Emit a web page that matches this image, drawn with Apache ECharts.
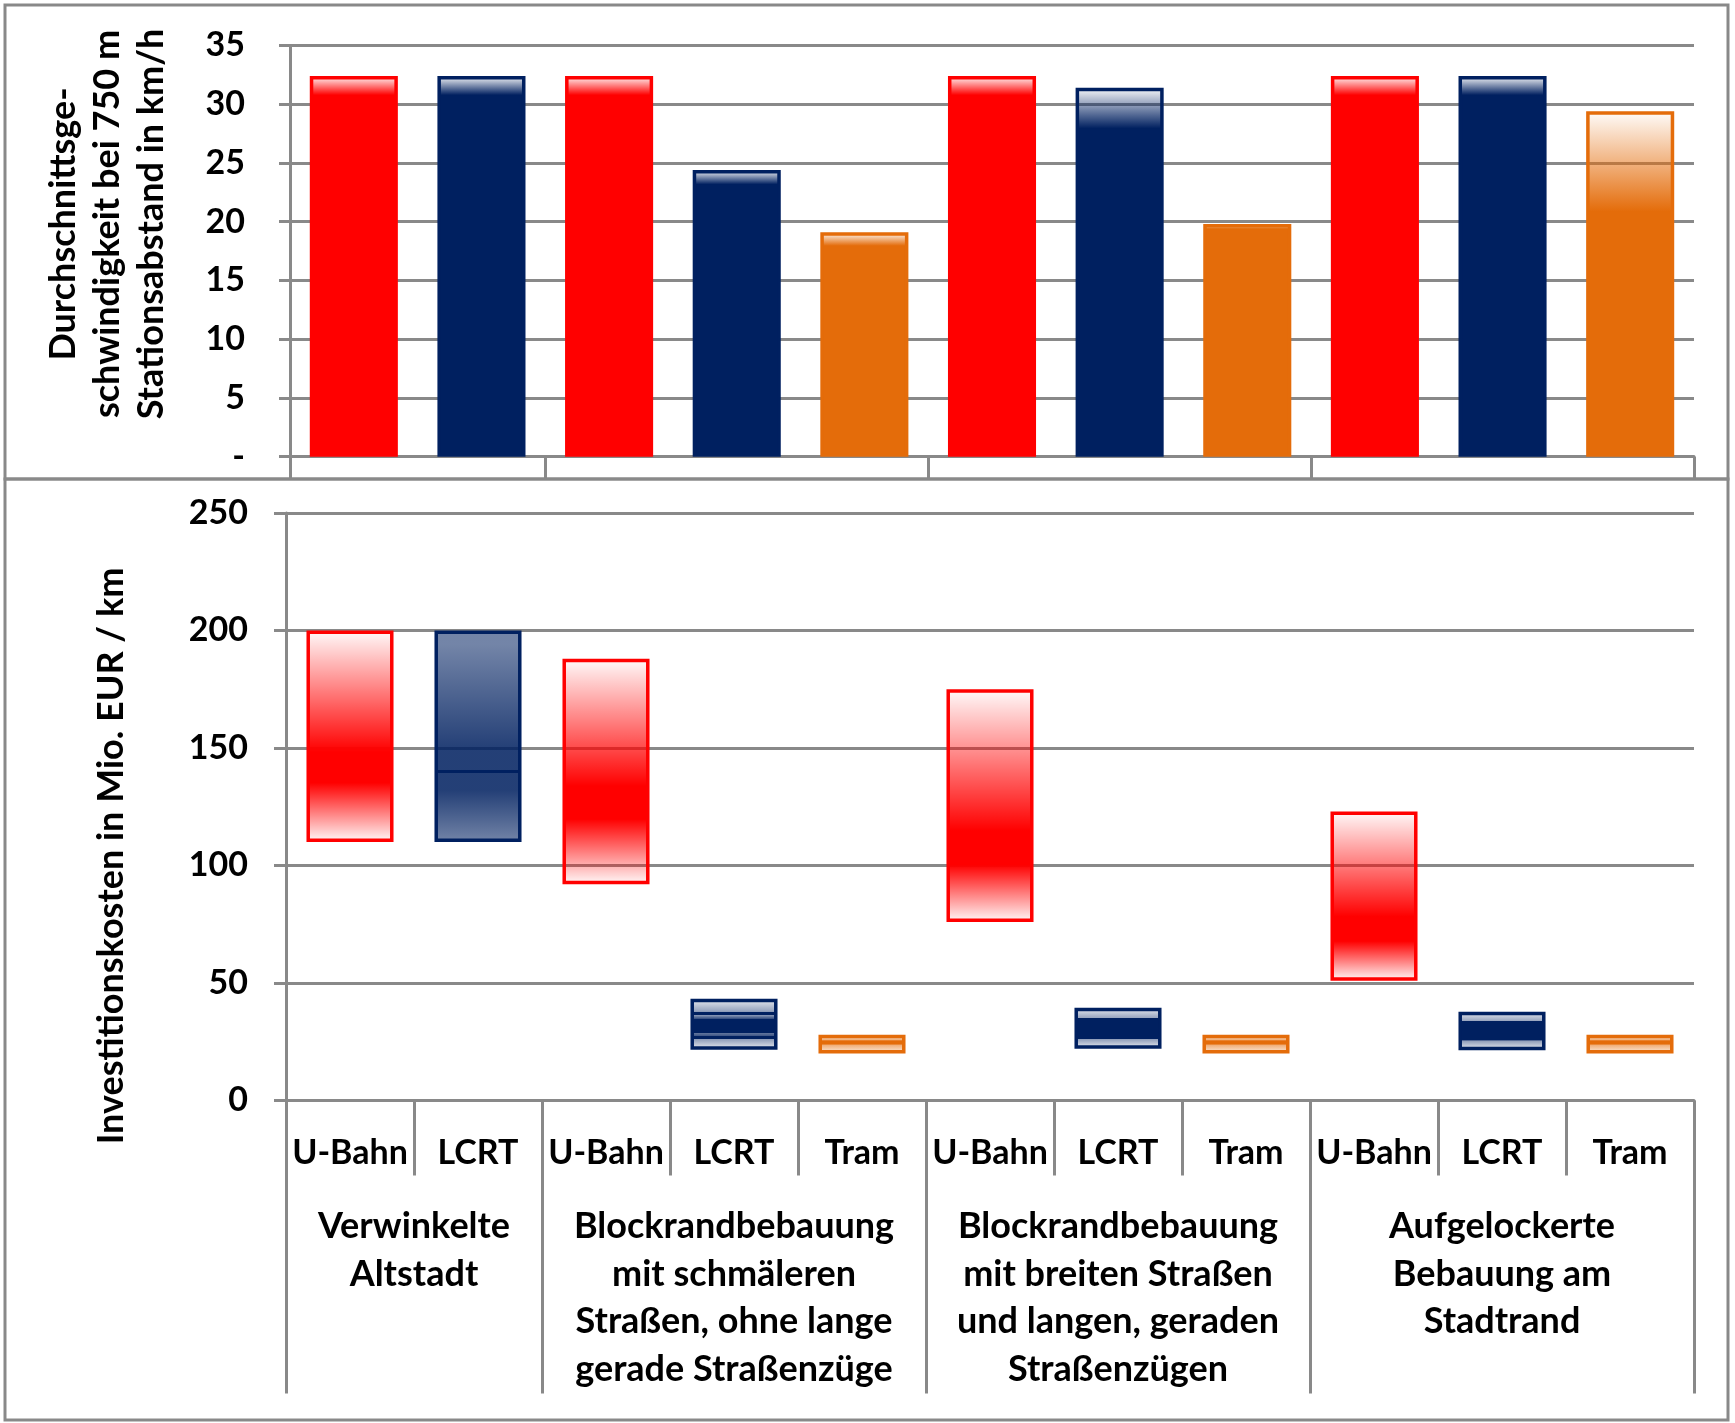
<!DOCTYPE html>
<html><head><meta charset="utf-8">
<script src="https://cdn.jsdelivr.net/npm/echarts@6/dist/echarts.min.js"></script>
<style>html,body{margin:0;padding:0;background:#fff}#c{width:1735px;height:1423px}</style>
</head><body><div id="c"></div>
<script>
// ---------- data ----------
const categories = ['U-Bahn','LCRT','U-Bahn','LCRT','Tram','U-Bahn','LCRT','Tram','U-Bahn','LCRT','Tram'];
const groups = ['Verwinkelte\nAltstadt',
  'Blockrandbebauung\nmit schmäleren\nStraßen, ohne lange\ngerade Straßenzüge',
  'Blockrandbebauung\nmit breiten Straßen\nund langen, geraden\nStraßenzügen',
  'Aufgelockerte\nBebauung am\nStadtrand'];
const groupSizes = [2,3,3,3];
const speed   = [32.4,32.4,32.4,24.4,19.1,32.4,31.4,19.8,32.4,32.4,29.4];
const costMin = [110,110,92,21.6,20,76,22,20,51,21.4,20];
const costMid = [140,140,125,32,24,105,30.5,24,71,29.6,24];
const costMax = [200,200,188,43.3,28,175,39.5,28,123,37.8,28];
const speedAxis = {min:0, max:35, step:5};
const costAxis  = {min:0, max:250, step:50};
const yNameTop = 'Durchschnittsge-\nschwindigkeit bei 750 m\nStationsabstand in km/h';
const yNameBottom = 'Investitionskosten in Mio. EUR / km';

// ---------- styles ----------
const modeColor = {'U-Bahn':'#FF0000','LCRT':'#002060','Tram':'#E46C0A'};
const GRAY = '#898989';
const FONT = 'Lato, Carlito, Calibri, sans-serif';
const FS = 34, FS_TXT = 36;
const topFade = [0.05,0.05,0.05,0.05,0.06,0.05,0.11,0.02,0.05,0.05,0.29];
const segKind = ['U','LB','U','L2','T','U','L','T','U','L','T'];
const segStyles = {
  U:  {upper:[[0,.02],[.86,1],[1,1]], lower:[[0,1],[.16,1],[1,.02]]},
  LB: {upper:[[0,.55],[.1,.55],[.85,.86],[1,.86]], lower:[[0,.86],[.25,.86],[1,.55]], divider:true},
  L:  {upper:[[0,.08],[.5,.42],[.51,1],[1,1]], lower:[[0,1],[.49,1],[.5,.45],[1,.06]]},
  L2: {upper:[[0,.08],[.48,.42],[.49,1],[.61,1],[.615,.45],[.775,.85],[.78,1],[1,1]],
       lower:[[0,1],[.3,1],[.305,.6],[.43,.75],[.435,1],[.55,1],[.555,.45],[1,.06]]},
  T:  {upper:[[0,.06],[.55,.55],[.65,1],[1,1]], lower:[[0,1],[.1,.55],[1,.1]]}
};
function rgba(hex,a){const n=parseInt(hex.slice(1),16);return 'rgba('+(n>>16)+','+((n>>8)&255)+','+(n&255)+','+a+')';}
function grad(hex,stops){return {type:'linear',x:0,y:0,x2:0,y2:1,colorStops:stops.map(s=>({offset:s[0],color:rgba(hex,s[1])}))};}
// one gradient for the whole floating bar, split at the middle value
function costStops(i){
  const st = segStyles[segKind[i]];
  const p = (costMax[i]-costMid[i])/(costMax[i]-costMin[i]);
  const d = st.divider ? 0.009 : 0;
  const out = st.upper.map(s=>[s[0]*(p-d), s[1]]);
  if (st.divider) { out.push([p-d+0.001,1],[p+d-0.001,1]); }
  st.lower.forEach(s=>out.push([p+d + s[0]*(1-p-d), s[1]]));
  return out;
}

const groupStarts = groupSizes.reduce((a,n,i)=>{a.push(i?a[i-1]+groupSizes[i-1]:0);return a;},[]);
const groupTick = (idx)=>groupStarts.indexOf(idx)>=0;

const labelStyle = {color:'#000', fontWeight:'bold', fontFamily:FONT, fontSize:FS};
const lineS = {color:GRAY, width:3};

const chart = echarts.init(document.getElementById('c'), null, {renderer:'canvas'});
const option = {
  animation:false,
  backgroundColor:'#fff',
  grid:[
    {left:290, right:41, top:45.5, height:411.2},
    {left:286, right:41, top:513, height:587.5}
  ],
  xAxis:[
    {gridIndex:0, type:'category', data:categories, axisLabel:{show:false},
     axisLine:{show:true, lineStyle:lineS},
     axisTick:{show:true, interval:groupTick, length:23, lineStyle:lineS}},
    {gridIndex:1, type:'category', data:categories, position:'bottom',
     axisLabel:Object.assign({interval:0, margin:36}, labelStyle),
     axisLine:{show:true, lineStyle:lineS},
     axisTick:{show:true, interval:0, length:75, lineStyle:lineS}},
    {gridIndex:1, type:'category', data:categories, position:'bottom',
     axisLabel:{show:false}, axisLine:{show:false},
     axisTick:{show:true, interval:groupTick, length:293, lineStyle:lineS}}
  ],
  yAxis:[
    {gridIndex:0, type:'value', min:speedAxis.min, max:speedAxis.max, interval:speedAxis.step,
     axisLine:{show:true, lineStyle:lineS}, axisTick:{show:true, length:11, lineStyle:lineS},
     splitLine:{show:true, lineStyle:lineS},
     axisLabel:Object.assign({margin:45, formatter:v=>v===0?'-':String(v)}, labelStyle)},
    {gridIndex:1, type:'value', min:costAxis.min, max:costAxis.max, interval:costAxis.step,
     axisLine:{show:true, lineStyle:lineS}, axisTick:{show:true, length:12, lineStyle:lineS},
     splitLine:{show:true, lineStyle:lineS},
     axisLabel:Object.assign({margin:38}, labelStyle)}
  ],
  series:[
    {type:'bar', xAxisIndex:0, yAxisIndex:0, barCategoryGap:'31%',
     data:speed.map((v,i)=>{const c=modeColor[categories[i]];return {value:v,
       itemStyle:{color:grad(c,[[0,.02],[topFade[i],1],[1,1]]), borderColor:c, borderWidth:3.5}};})},
    {type:'bar', xAxisIndex:1, yAxisIndex:1, stack:'cost', barCategoryGap:'32%', silent:true,
     data:costMin, itemStyle:{color:'rgba(0,0,0,0)', borderWidth:0}},
    {type:'bar', xAxisIndex:1, yAxisIndex:1, stack:'cost', barCategoryGap:'32%',
     data:costMax.map((v,i)=>{const c=modeColor[categories[i]];return {value:v-costMin[i],
       itemStyle:{color:grad(c,costStops(i)), borderColor:c, borderWidth:3.5}};})}
  ],
  graphic:[]
};
chart.setOption(option);

const textStyle = (t)=>({text:t, font:'bold '+FS_TXT+'px '+FONT, fill:'#000', textAlign:'center'});
const graphics = [
  {type:'rect', shape:{x:5,y:5,width:1723,height:474}, style:{fill:'none', stroke:GRAY, lineWidth:3}, silent:true},
  {type:'rect', shape:{x:5,y:479,width:1723,height:941}, style:{fill:'none', stroke:GRAY, lineWidth:3}, silent:true},
  {type:'text', x:107, y:224, rotation:Math.PI/2,
   style:Object.assign(textStyle(yNameTop), {textVerticalAlign:'middle', lineHeight:44})},
  {type:'text', x:111, y:856, rotation:Math.PI/2,
   style:Object.assign(textStyle(yNameBottom), {textVerticalAlign:'middle'})}
];
groups.forEach((g,gi)=>{
  const s = groupStarts[gi], e = s + groupSizes[gi] - 1;
  const x = (chart.convertToPixel({xAxisIndex:1}, s) + chart.convertToPixel({xAxisIndex:1}, e)) / 2;
  graphics.push({type:'text', x:x, y:1203,
    style:Object.assign(textStyle(g), {textVerticalAlign:'top', lineHeight:47.5})});
});
chart.setOption({graphic:graphics});
</script></body></html>
